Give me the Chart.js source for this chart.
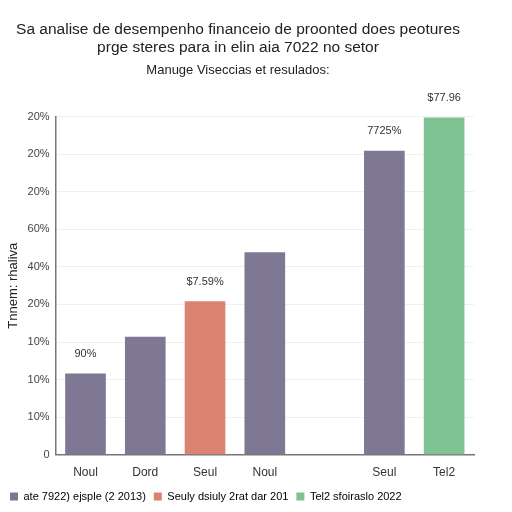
<!DOCTYPE html>
<html>
<head>
<meta charset="utf-8">
<script src="https://cdn.jsdelivr.net/npm/chart.js@4"></script>
<style>
  html, body { margin: 0; padding: 0; background: #fff; }
  #wrap { width: 512px; height: 512px; }
</style>
</head>
<body>
<div id="wrap"><canvas id="c"></canvas></div>
<script>
// chart data
var categories = ['Noul', 'Dord', 'Seul', 'Noul', '', 'Seul', 'Tel2'];
var values = [2.15, 3.13, 4.08, 5.38, null, 8.09, 8.97];
var bar_colors = ['#7e7894', '#7e7894', '#d98370', '#7e7894', '#7e7894', '#7e7894', '#80c392'];
var value_labels = ['90%', '', '$7.59%', '', '', '7725%', '$77.96'];
var tick_labels = ['0', '10%', '10%', '10%', '20%', '40%', '60%', '20%', '20%', '20%'];
var legend_names = ['ate 7922) ejsple (2 2013)', 'Seuly dsiuly 2rat dar 201', 'Tel2 sfoiraslo 2022'];
var legend_colors = ['#7e7894', '#d98370', '#80c392'];

var valueLabelPlugin = {
    id: 'valueLabels',
    afterDatasetsDraw: function(chart) {
        var ctx = chart.ctx;
        var meta = chart.getDatasetMeta(0);
        ctx.save();
        ctx.font = '11px "Liberation Sans", Arial, sans-serif';
        ctx.fillStyle = '#333';
        ctx.textAlign = 'center';
        ctx.textBaseline = 'bottom';
        meta.data.forEach(function(bar, i) {
            if (!value_labels[i] || values[i] == null) return;
            ctx.fillText(value_labels[i], bar.x, bar.y - 14);
        });
        ctx.restore();
    }
};

new Chart(document.getElementById('c'), {
    type: 'bar',
    data: {
        labels: categories,
        datasets: [{
            data: values,
            backgroundColor: bar_colors,
            barThickness: 40
        }]
    },
    options: {
        responsive: true,
        maintainAspectRatio: false,
        animation: false,
        layout: { padding: { left: 2, right: 38, top: 0, bottom: 0 } },
        plugins: {
            title: {
                display: true,
                text: ['Sa analise de desempenho financeio de proonted does peotures', 'prge steres para in elin aia 7022 no setor'],
                color: '#222',
                font: { family: '"Liberation Sans", Arial, sans-serif', size: 15.5, weight: 'normal' },
                padding: { top: 20, bottom: 5 }
            },
            subtitle: {
                display: true,
                text: 'Manuge Viseccias et resulados:',
                color: '#222',
                font: { family: '"Liberation Sans", Arial, sans-serif', size: 13 },
                padding: { bottom: 39 }
            },
            legend: {
                display: true,
                position: 'bottom',
                align: 'start',
                labels: {
                    color: '#444',
                    boxWidth: 8,
                    boxHeight: 8,
                    padding: 8,
                    font: { family: '"Liberation Sans", Arial, sans-serif', size: 11 },
                    generateLabels: function() {
                        return legend_names.map(function(n, i) {
                            return { text: n, fillStyle: legend_colors[i], strokeStyle: legend_colors[i], lineWidth: 0, index: i };
                        });
                    }
                }
            },
            tooltip: { enabled: false }
        },
        scales: {
            x: {
                grid: { display: false },
                border: { color: '#777', width: 1.5 },
                ticks: {
                    color: '#333',
                    font: { family: '"Liberation Sans", Arial, sans-serif', size: 12 },
                    padding: 3
                }
            },
            y: {
                min: 0,
                max: 9,
                grid: { color: '#f0f0f0', drawTicks: false },
                border: { color: '#777', width: 1.5 },
                ticks: {
                    stepSize: 1,
                    padding: 6,
                    color: '#444',
                    font: { family: '"Liberation Sans", Arial, sans-serif', size: 11 },
                    callback: function(v) { return tick_labels[v]; }
                },
                title: {
                    display: true,
                    text: 'Tnnem: rhaliva',
                    color: '#222',
                    font: { family: '"Liberation Sans", Arial, sans-serif', size: 13 },
                    padding: { bottom: 0 }
                }
            }
        }
    },
    plugins: [valueLabelPlugin]
});
</script>
</body>
</html>
